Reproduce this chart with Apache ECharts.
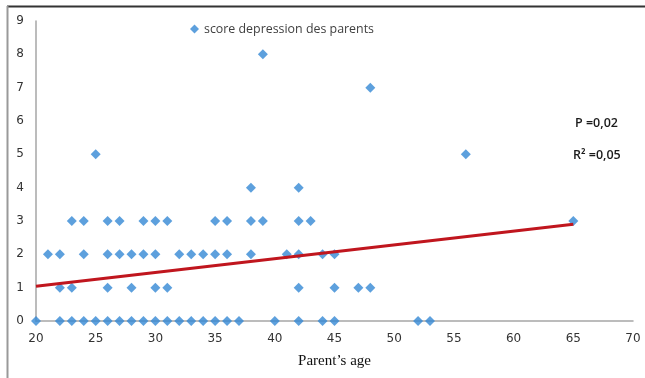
<!DOCTYPE html>
<html>
<head>
<meta charset="utf-8">
<script src="https://cdn.jsdelivr.net/npm/echarts@6/dist/echarts.min.js"></script>
<style>html,body{margin:0;padding:0;background:#fff;}#c{width:645px;height:378px;}</style>
</head>
<body>
<div id="c"></div>
<script>
// Data: parent's age and depression score
var ages0 = [20,22,23,24,25,26,27,28,29,30,31,32,33,34,35,36,37,40,42,44,45,52,53];
var ages1 = [22,23,26,28,30,31,42,45,47,48];
var ages2 = [21,22,24,26,27,28,29,30,32,33,34,35,36,38,41,42,44,45];
var ages3 = [23,24,26,27,29,30,31,35,36,38,39,42,43,65];
var ages4 = [38,42];
var ages5 = [25,56];
var ages7 = [48];
var ages8 = [39];
var trendX = [20, 65];
var trendY = [1.04, 2.9];

function rows(ages, score){ return ages.map(function(a){ return [a, score]; }); }
var points = [].concat(rows(ages0,0), rows(ages1,1), rows(ages2,2), rows(ages3,3),
  rows(ages4,4), rows(ages5,5), rows(ages7,7), rows(ages8,8));
var trend = trendX.map(function(x,i){ return [x, trendY[i]]; });

var chart = echarts.init(document.getElementById('c'));
var tickFont = {color:'#333', fontSize:12, fontFamily:'DejaVu Sans'};
chart.setOption({
  animation:false,
  grid:{left:36, right:12, top:21, bottom:57},
  legend:{
    data:[{name:'score depression des parents', icon:'diamond'}],
    left:185, top:18, itemWidth:9, itemHeight:9,
    textStyle:{color:'#404040', fontSize:12.4, fontFamily:'Open Sans'}
  },
  xAxis:{
    type:'value', min:20, max:70, interval:5,
    axisLine:{show:true, lineStyle:{color:'#a6a6a6', width:1.5}},
    axisTick:{show:false}, splitLine:{show:false},
    axisLabel:Object.assign({margin:12}, tickFont),
    name:'Parent\u2019s age', nameLocation:'middle', nameGap:33,
    nameTextStyle:{color:'#111', fontSize:15, fontFamily:'Liberation Serif'}
  },
  yAxis:{
    type:'value', min:0, max:9, interval:1,
    axisLine:{show:true, lineStyle:{color:'#a6a6a6', width:1.5}},
    axisTick:{show:false}, splitLine:{show:false},
    axisLabel:Object.assign({margin:12}, tickFont)
  },
  series:[
    {name:'score depression des parents', type:'scatter', symbol:'diamond', symbolSize:10,
     itemStyle:{color:'#3588d4'}, data:points, z:3},
    {name:'trend', type:'line', data:trend, symbol:'none', lineStyle:{color:'#c0161e', width:3}, z:4}
  ],
  graphic:[
    {type:'line', shape:{x1:7, y1:6.5, x2:645, y2:6.5}, style:{stroke:'#333', lineWidth:2}},
    {type:'line', shape:{x1:7.5, y1:6, x2:7.5, y2:378}, style:{stroke:'#999', lineWidth:2}},
    {type:'text', left:575, top:117, style:{text:'P =0,02', fill:'#1a1a1a', font:'600 12.5px "Open Sans"'}},
    {type:'text', left:573, top:149, style:{text:'R\u00b2 =0,05', fill:'#1a1a1a', font:'600 12.5px "Open Sans"'}}
  ]
});
</script>
</body>
</html>
